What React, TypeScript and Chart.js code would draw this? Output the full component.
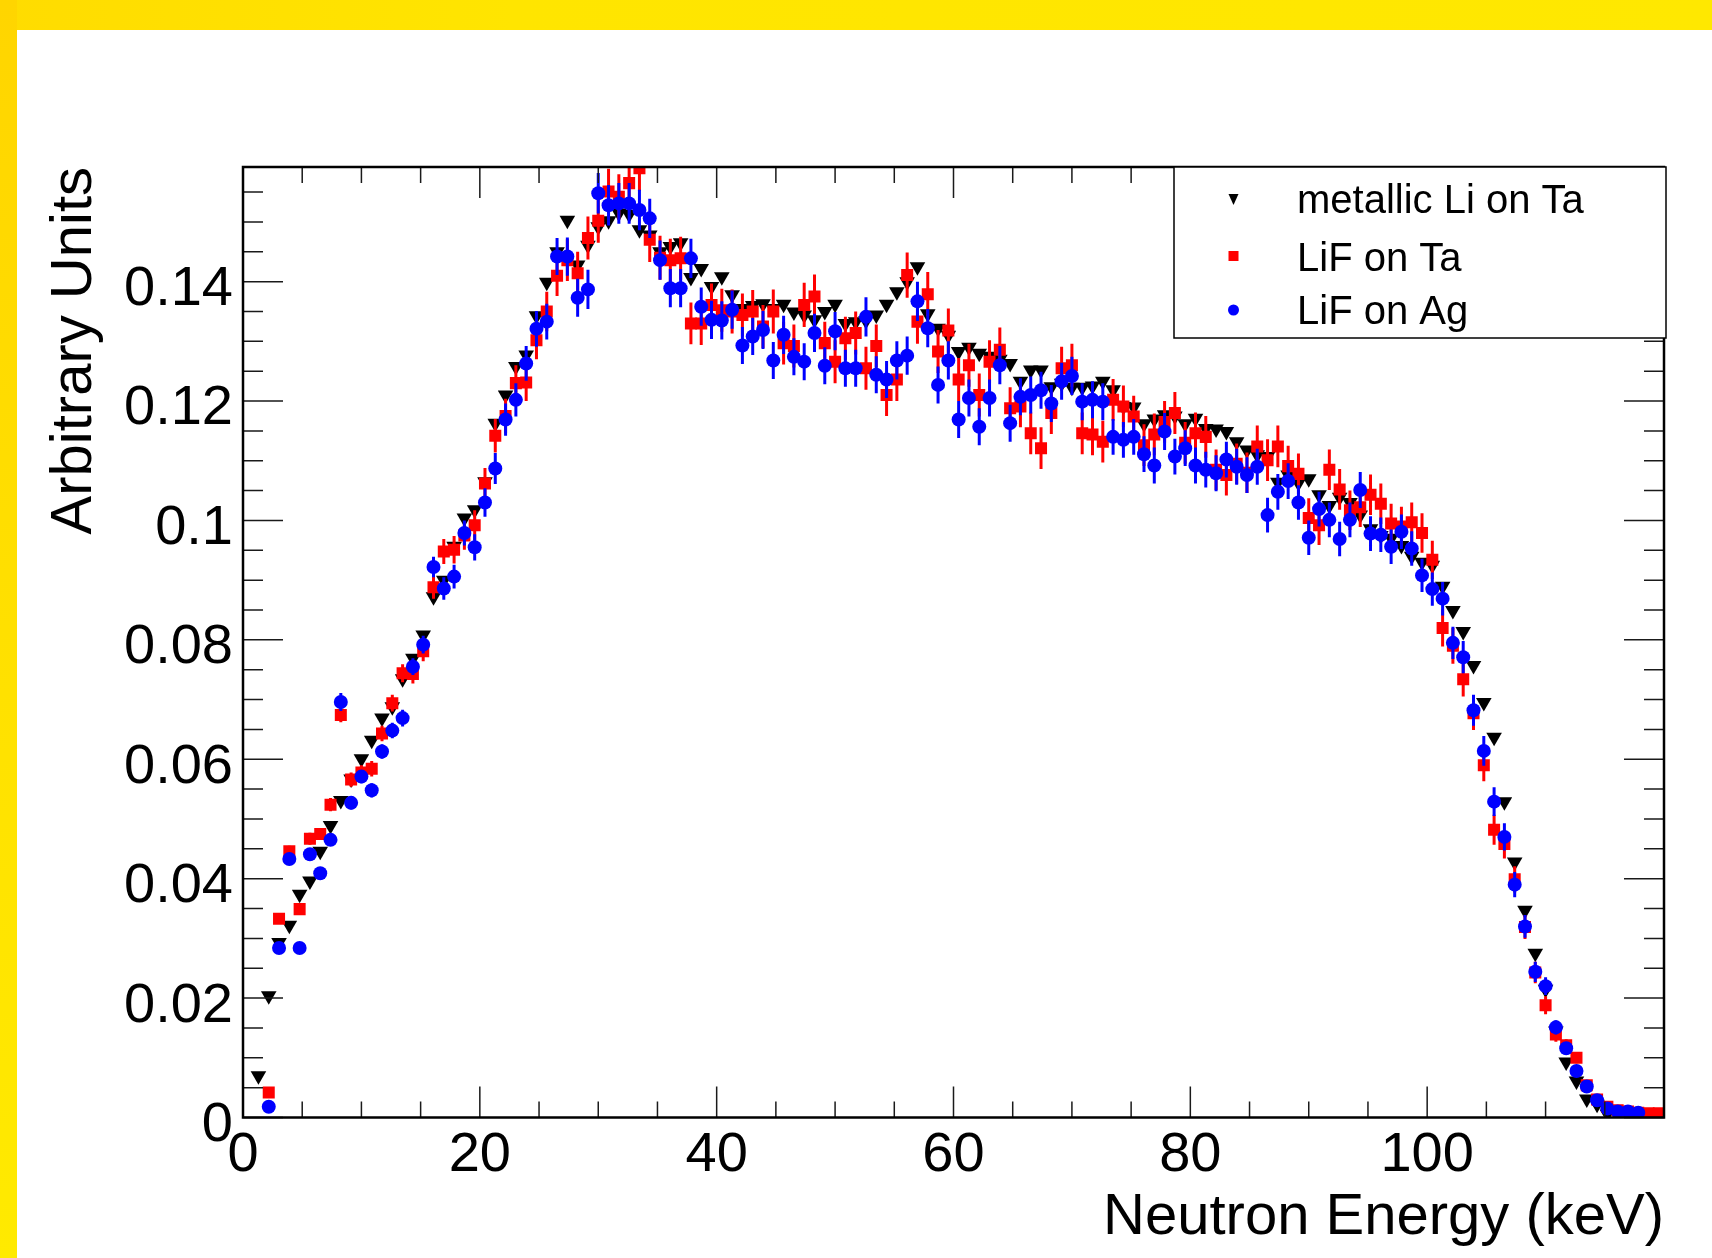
import React, { useEffect, useRef } from "react";
import { Chart, registerables } from "chart.js";

Chart.register(...registerables);

const FONT = "'Liberation Sans', Arial, Helvetica, sans-serif";

// ---- axis ranges / binning ----
const X_MIN = 0;
const X_MAX = 120;
const Y_MIN = 0;
const Y_MAX = 0.1592;
const N_BINS = 138;
const BIN_WIDTH = (X_MAX - X_MIN) / N_BINS;

// ---- tick labels ----
const xTickLabels = [0, 20, 40, 60, 80, 100];
const yTickLabels = [0, 0.02, 0.04, 0.06, 0.08, 0.1, 0.12, 0.14];
const X_MAJOR = 20;
const X_MINOR = 5;
const Y_MAJOR = 0.02;
const Y_MINOR = 0.005;

const seriesLabels = ["metallic Li on Ta", "LiF on Ta", "LiF on Ag"];
const xTitle = "Neutron Energy (keV)";
const yTitle = "Arbitrary Units";

// ---- data: one value per bin, bins 1..137 ----
const metallicLiOnTa: (number | null)[] = [
  0.0070, 0.0204, 0.0293, 0.0322, 0.0374, 0.0396, 0.0446, 0.0489, 0.0531, 0.0567,
  0.0601, 0.0632, 0.0669, 0.0688, 0.0735, 0.0769, 0.0808, 0.0872, 0.0900, 0.0957,
  0.1004, 0.1018, 0.1065, 0.1163, 0.1210, 0.1258, 0.1277, 0.1343, 0.1399, 0.1450,
  0.1503, 0.1428, 0.1461, 0.1492, 0.1502, 0.1515, 0.1513, 0.1487, 0.1478, 0.1450,
  0.1459, 0.1465, 0.1407, 0.1422, 0.1392, 0.1408, 0.1378, 0.1355, 0.1360, 0.1363,
  0.1355, 0.1362, 0.1349, 0.1344, 0.1336, 0.1350, 0.1362, 0.1330, 0.1333, 0.1335,
  0.1344, 0.1362, 0.1383, 0.1400, 0.1425, 0.1346, 0.1322, 0.1310, 0.1283, 0.1290,
  0.1280, 0.1275, 0.1270, 0.1263, 0.1233, 0.1252, 0.1252, 0.1224, 0.1230, 0.1223,
  0.1223, 0.1225, 0.1233, 0.1219, 0.1191, 0.1190, 0.1162, 0.1170, 0.1177, 0.1175,
  0.1162, 0.1171, 0.1154, 0.1153, 0.1149, 0.1132, 0.1118, 0.1110, 0.1107, 0.1064,
  0.1076, 0.1063, 0.1070, 0.1043, 0.1025, 0.1039, 0.1030, 0.1009, 0.0986, 0.0975,
  0.0970, 0.0958, 0.0940, 0.0930, 0.0925, 0.0890, 0.0849, 0.0814, 0.0757, 0.0695,
  0.0637, 0.0529, 0.0428, 0.0347, 0.0275, 0.0215, 0.0145, 0.0093, 0.0061, 0.0031,
  0.0022, 0.0006, 0.0003, null, null, null, null,
];

const lifOnTa: (number | null)[] = [
  null, 0.0042, 0.0333, 0.0446, 0.0349, 0.0467, 0.0475, 0.0524, 0.0674, 0.0566,
  0.0578, 0.0584, 0.0643, 0.0694, 0.0744, 0.0743, 0.0781, 0.0888, 0.0948, 0.0951,
  0.0975, 0.0992, 0.1062, 0.1142, 0.1175, 0.1230, 0.1231, 0.1302, 0.1350, 0.1410,
  0.1436, 0.1414, 0.1473, 0.1502, 0.1551, 0.1542, 0.1565, 0.1590, 0.1470, 0.1440,
  0.1436, 0.1439, 0.1330, 0.1330, 0.1361, 0.1352, 0.1350, 0.1344, 0.1350, 0.1325,
  0.1350, 0.1297, 0.1292, 0.1361, 0.1375, 0.1297, 0.1266, 0.1305, 0.1314, 0.1255,
  0.1292, 0.1210, 0.1236, 0.1411, 0.1333, 0.1379, 0.1283, 0.1318, 0.1236, 0.1260,
  0.1210, 0.1266, 0.1286, 0.1188, 0.1191, 0.1146, 0.1121, 0.1180, 0.1255, 0.1260,
  0.1146, 0.1144, 0.1132, 0.1202, 0.1191, 0.1174, 0.1126, 0.1144, 0.1165, 0.1180,
  0.1130, 0.1146, 0.1140, 0.1085, 0.1076, 0.1095, 0.1080, 0.1124, 0.1101, 0.1124,
  0.1091, 0.1078, 0.1004, 0.0992, 0.1085, 0.1052, 0.1017, 0.1022, 0.1043, 0.1028,
  0.0995, 0.0990, 0.0997, 0.0979, 0.0934, 0.0820, 0.0790, 0.0734, 0.0677, 0.0590,
  0.0482, 0.0458, 0.0399, 0.0319, 0.0243, 0.0188, 0.0139, 0.0121, 0.0100, 0.0054,
  0.0030, 0.0018, 0.0012, 0.0010, 0.0008, 0.0007, 0.0007,
];

const lifOnTaErr: number[] = [
  0, 0.0004, 0.0008, 0.0009, 0.0009, 0.0010, 0.0010, 0.0011, 0.0012, 0.0012,
  0.0012, 0.0013, 0.0013, 0.0014, 0.0015, 0.0016, 0.0017, 0.0019, 0.0021, 0.0023,
  0.0024, 0.0025, 0.0026, 0.0028, 0.0029, 0.0030, 0.0031, 0.0032, 0.0033, 0.0034,
  0.0035, 0.0036, 0.0036, 0.0037, 0.0038, 0.0038, 0.0038, 0.0038, 0.0037, 0.0037,
  0.0036, 0.0036, 0.0035, 0.0036, 0.0036, 0.0036, 0.0037, 0.0036, 0.0036, 0.0036,
  0.0037, 0.0036, 0.0036, 0.0037, 0.0037, 0.0036, 0.0036, 0.0036, 0.0036, 0.0036,
  0.0036, 0.0035, 0.0036, 0.0038, 0.0037, 0.0037, 0.0036, 0.0037, 0.0036, 0.0036,
  0.0036, 0.0036, 0.0037, 0.0035, 0.0035, 0.0035, 0.0035, 0.0035, 0.0036, 0.0036,
  0.0035, 0.0035, 0.0035, 0.0035, 0.0035, 0.0035, 0.0035, 0.0035, 0.0035, 0.0035,
  0.0035, 0.0035, 0.0035, 0.0034, 0.0034, 0.0034, 0.0034, 0.0035, 0.0035, 0.0035,
  0.0034, 0.0034, 0.0033, 0.0033, 0.0034, 0.0034, 0.0033, 0.0033, 0.0034, 0.0034,
  0.0033, 0.0033, 0.0033, 0.0033, 0.0032, 0.0031, 0.0030, 0.0029, 0.0028, 0.0027,
  0.0025, 0.0024, 0.0022, 0.0020, 0.0018, 0.0015, 0.0012, 0.0010, 0.0009, 0.0007,
  0.0005, 0.0004, 0.0003, 0.0003, 0.0002, 0.0002, 0.0002,
];

const lifOnAg: (number | null)[] = [
  null, 0.0018, 0.0284, 0.0433, 0.0284, 0.0441, 0.0409, 0.0465, 0.0696, 0.0527,
  0.0571, 0.0548, 0.0613, 0.0648, 0.0669, 0.0755, 0.0792, 0.0922, 0.0886, 0.0906,
  0.0979, 0.0955, 0.1030, 0.1087, 0.1169, 0.1202, 0.1263, 0.1321, 0.1333, 0.1442,
  0.1442, 0.1373, 0.1387, 0.1548, 0.1528, 0.1531, 0.1531, 0.1520, 0.1506, 0.1436,
  0.1389, 0.1389, 0.1439, 0.1358, 0.1336, 0.1335, 0.1353, 0.1293, 0.1308, 0.1319,
  0.1268, 0.1311, 0.1274, 0.1266, 0.1314, 0.1259, 0.1317, 0.1255, 0.1255, 0.1341,
  0.1244, 0.1236, 0.1268, 0.1276, 0.1367, 0.1322, 0.1227, 0.1268, 0.1169, 0.1205,
  0.1157, 0.1205, 0.1260, 0.1163, 0.1207, 0.1210, 0.1218, 0.1196, 0.1233, 0.1242,
  0.1199, 0.1202, 0.1199, 0.1140, 0.1135, 0.1140, 0.1111, 0.1092, 0.1149, 0.1107,
  0.1121, 0.1092, 0.1085, 0.1079, 0.1102, 0.1090, 0.1076, 0.1090, 0.1009, 0.1048,
  0.1066, 0.1030, 0.0971, 0.1019, 0.1001, 0.0969, 0.1001, 0.1051, 0.0978, 0.0976,
  0.0956, 0.0981, 0.0953, 0.0908, 0.0885, 0.0869, 0.0795, 0.0771, 0.0682, 0.0614,
  0.0529, 0.0470, 0.0390, 0.0320, 0.0244, 0.0220, 0.0151, 0.0116, 0.0078, 0.0052,
  0.0029, 0.0015, 0.0010, 0.0010, 0.0008, null, null,
];

const lifOnAgErr: number[] = [
  0, 0.0004, 0.0007, 0.0008, 0.0008, 0.0009, 0.0009, 0.0010, 0.0015, 0.0011,
  0.0011, 0.0012, 0.0012, 0.0013, 0.0014, 0.0014, 0.0015, 0.0017, 0.0019, 0.0020,
  0.0021, 0.0022, 0.0024, 0.0026, 0.0027, 0.0028, 0.0029, 0.0030, 0.0030, 0.0031,
  0.0032, 0.0032, 0.0033, 0.0034, 0.0034, 0.0034, 0.0034, 0.0034, 0.0033, 0.0033,
  0.0032, 0.0032, 0.0033, 0.0032, 0.0032, 0.0032, 0.0032, 0.0031, 0.0031, 0.0032,
  0.0031, 0.0032, 0.0031, 0.0031, 0.0032, 0.0031, 0.0032, 0.0031, 0.0031, 0.0033,
  0.0031, 0.0031, 0.0032, 0.0032, 0.0033, 0.0032, 0.0031, 0.0032, 0.0031, 0.0031,
  0.0031, 0.0031, 0.0032, 0.0031, 0.0031, 0.0031, 0.0031, 0.0031, 0.0031, 0.0032,
  0.0031, 0.0031, 0.0031, 0.0030, 0.0030, 0.0030, 0.0030, 0.0030, 0.0031, 0.0030,
  0.0030, 0.0030, 0.0030, 0.0030, 0.0030, 0.0030, 0.0030, 0.0030, 0.0029, 0.0030,
  0.0030, 0.0029, 0.0029, 0.0029, 0.0029, 0.0029, 0.0029, 0.0030, 0.0029, 0.0029,
  0.0029, 0.0029, 0.0029, 0.0028, 0.0028, 0.0028, 0.0027, 0.0027, 0.0026, 0.0025,
  0.0024, 0.0023, 0.0021, 0.0019, 0.0017, 0.0015, 0.0012, 0.0010, 0.0008, 0.0007,
  0.0005, 0.0004, 0.0003, 0.0003, 0.0002, 0, 0,
];

// bin centres (bin k+1 of a 0..120 keV histogram)
const energies = metallicLiOnTa.map((_, k) => X_MIN + (k + 1.5) * BIN_WIDTH);

type Pt = { x: number; y: number; err: number };
const toPoints = (vals: (number | null)[], errs: number[] | null): Pt[] =>
  vals.flatMap((v, k) =>
    v === null ? [] : [{ x: energies[k], y: v, err: errs ? errs[k] : 0 }]
  );

const fmt = (v: number) => String(+v.toFixed(4));

const errorBarPlugin = {
  id: "errorBars",
  beforeDatasetDraw(chart: any, args: any) {
    const ds = chart.data.datasets[args.index];
    if (!ds || !ds.errColor) return;
    const { ctx, chartArea } = chart;
    const xs = chart.scales.x;
    const ys = chart.scales.y;
    ctx.save();
    ctx.beginPath();
    ctx.rect(chartArea.left, chartArea.top, chartArea.right - chartArea.left, chartArea.bottom - chartArea.top);
    ctx.clip();
    ctx.beginPath();
    ctx.strokeStyle = ds.errColor;
    ctx.lineWidth = 3;
    for (const p of ds.data as Pt[]) {
      if (!p.err) continue;
      const px = xs.getPixelForValue(p.x);
      ctx.moveTo(px, ys.getPixelForValue(p.y - p.err));
      ctx.lineTo(px, ys.getPixelForValue(p.y + p.err));
    }
    ctx.stroke();
    ctx.restore();
  },
};

const rootFramePlugin = {
  id: "rootFrame",
  afterDatasetsDraw(chart: any) {
    const { ctx, chartArea } = chart;
    const { left, right, top, bottom } = chartArea;
    const xs = chart.scales.x;
    const ys = chart.scales.y;
    ctx.save();
    ctx.strokeStyle = "#1a1a1a";
    ctx.lineWidth = 1.5;
    ctx.beginPath();
    const nx = Math.round((X_MAX - X_MIN) / X_MINOR);
    for (let k = 0; k <= nx; k++) {
      const v = X_MIN + k * X_MINOR;
      const major = Math.abs(v / X_MAJOR - Math.round(v / X_MAJOR)) < 1e-6;
      const len = major ? 31 : 16;
      const px = xs.getPixelForValue(v);
      ctx.moveTo(px, bottom);
      ctx.lineTo(px, bottom - len);
      ctx.moveTo(px, top);
      ctx.lineTo(px, top + len);
    }
    const ny = Math.floor((Y_MAX - Y_MIN) / Y_MINOR + 1e-6);
    for (let k = 0; k <= ny; k++) {
      const v = Y_MIN + k * Y_MINOR;
      const major = Math.abs(v / Y_MAJOR - Math.round(v / Y_MAJOR)) < 1e-6;
      const len = major ? 40 : 20;
      const py = ys.getPixelForValue(v);
      ctx.moveTo(left, py);
      ctx.lineTo(left + len, py);
      ctx.moveTo(right, py);
      ctx.lineTo(right - len, py);
    }
    ctx.stroke();
    ctx.strokeStyle = "#000";
    ctx.lineWidth = 2.5;
    ctx.strokeRect(left, top, right - left, bottom - top);
    ctx.restore();
  },
  afterDraw(chart: any) {
    const { ctx, chartArea } = chart;
    const x1 = 1174;
    const y1 = chartArea.top;
    const x2 = chartArea.right + 2;
    const y2 = 338;
    ctx.save();
    ctx.fillStyle = "#fff";
    ctx.fillRect(x1, y1, x2 - x1, y2 - y1);
    ctx.strokeStyle = "#000";
    ctx.lineWidth = 1.5;
    ctx.strokeRect(x1, y1, x2 - x1, y2 - y1);

    const mx = 1233.5;
    const rowsMid = [199, 256, 310];
    const rowsBase = [213, 271, 324];
    // marker 1: downward triangle
    ctx.fillStyle = "#000";
    ctx.beginPath();
    ctx.moveTo(mx - 5, rowsMid[0] - 5);
    ctx.lineTo(mx + 5, rowsMid[0] - 5);
    ctx.lineTo(mx, rowsMid[0] + 6);
    ctx.closePath();
    ctx.fill();
    // marker 2: red square
    ctx.fillStyle = "#ff0000";
    ctx.fillRect(mx - 5, rowsMid[1] - 5, 10, 10);
    // marker 3: blue circle
    ctx.fillStyle = "#0000ff";
    ctx.beginPath();
    ctx.arc(mx, rowsMid[2], 5.5, 0, Math.PI * 2);
    ctx.fill();

    ctx.fillStyle = "#000";
    ctx.font = `40px ${FONT}`;
    ctx.textAlign = "left";
    ctx.textBaseline = "alphabetic";
    seriesLabels.forEach((t, i) => ctx.fillText(t, 1297, rowsBase[i]));
    ctx.restore();
  },
};

export default function App() {
  const ref = useRef<HTMLCanvasElement>(null);

  useEffect(() => {
    const canvas = ref.current;
    if (!canvas) return;
    const datasets: any[] = [
      {
        label: seriesLabels[0],
        data: toPoints(metallicLiOnTa, null),
        pointStyle: "triangle",
        rotation: 180,
        pointRotation: 180,
        pointRadius: 9,
        pointBackgroundColor: "#000",
        pointBorderColor: "#000",
        pointBorderWidth: 0,
        backgroundColor: "#000",
        borderColor: "#000",
        showLine: false,
        clip: 0,
        order: 3,
      },
      {
        label: seriesLabels[1],
        data: toPoints(lifOnTa, lifOnTaErr),
        pointStyle: "rect",
        pointRadius: 8.5,
        pointBackgroundColor: "#ff0000",
        pointBorderColor: "#ff0000",
        pointBorderWidth: 0,
        backgroundColor: "#ff0000",
        borderColor: "#ff0000",
        errColor: "#ff0000",
        showLine: false,
        clip: 0,
        order: 2,
      },
      {
        label: seriesLabels[2],
        data: toPoints(lifOnAg, lifOnAgErr),
        pointStyle: "circle",
        pointRadius: 7,
        pointBackgroundColor: "#0000ff",
        pointBorderColor: "#0000ff",
        pointBorderWidth: 0,
        backgroundColor: "#0000ff",
        borderColor: "#0000ff",
        errColor: "#0000ff",
        showLine: false,
        clip: 0,
        order: 1,
      },
    ];

    const chart = new Chart(canvas, {
      type: "scatter",
      data: { datasets },
      plugins: [errorBarPlugin, rootFramePlugin],
      options: {
        responsive: false,
        animation: false,
        devicePixelRatio: 1,
        events: [],
        layout: { padding: { left: 0, top: 167, right: 48, bottom: 0 } },
        plugins: {
          legend: { display: false },
          tooltip: { enabled: false },
          title: { display: false },
        },
        scales: {
          x: {
            type: "linear",
            position: "bottom",
            min: X_MIN,
            max: X_MAX,
            grid: { display: false, drawTicks: false },
            border: { display: false },
            ticks: {
              color: "#000",
              font: { family: FONT, size: 56 },
              padding: 4,
              maxRotation: 0,
              autoSkip: false,
              callback: (v: any) => fmt(Number(v)),
            },
            afterBuildTicks: (scale: any) => {
              scale.ticks = xTickLabels.map((v) => ({ value: v }));
            },
            afterFit: (scale: any) => {
              scale.height = 140.5;
            },
            title: {
              display: true,
              text: xTitle,
              align: "end",
              color: "#000",
              font: { family: FONT, size: 58 },
              padding: { top: 0, bottom: 5.5 },
            },
          },
          y: {
            type: "linear",
            position: "left",
            min: Y_MIN,
            max: Y_MAX,
            grid: { display: false, drawTicks: false },
            border: { display: false },
            ticks: {
              color: "#000",
              font: { family: FONT, size: 56 },
              padding: 10,
              labelOffset: 8,
              autoSkip: false,
              callback: (v: any) => fmt(Number(v)),
            },
            afterBuildTicks: (scale: any) => {
              scale.ticks = yTickLabels.map((v) => ({ value: v }));
            },
            afterFit: (scale: any) => {
              scale.width = 243;
            },
            title: {
              display: true,
              text: yTitle,
              align: "end",
              color: "#000",
              font: { family: FONT, size: 58 },
              padding: { top: 40, bottom: 0 },
            },
          },
        },
      } as any,
    });
    return () => chart.destroy();
  }, []);

  return (
    <div
      style={{
        position: "relative",
        width: 1712,
        height: 1258,
        overflow: "hidden",
        background: "#ffffff",
      }}
    >
      <style>{"html,body{margin:0;padding:0;}"}</style>
      <div
        style={{
          position: "absolute",
          left: 0,
          top: 0,
          width: 1712,
          height: 30,
          background: "linear-gradient(90deg, #FFDC00, #FFE500 30%, #FFE800)",
        }}
      />
      <div
        style={{
          position: "absolute",
          left: 0,
          top: 0,
          width: 17,
          height: 1258,
          background: "linear-gradient(180deg, #FFD500, #FFE000 50%, #FFEA00)",
        }}
      />
      <canvas
        ref={ref}
        width={1712}
        height={1258}
        style={{ position: "absolute", left: 0, top: 0, width: 1712, height: 1258 }}
      />
    </div>
  );
}
